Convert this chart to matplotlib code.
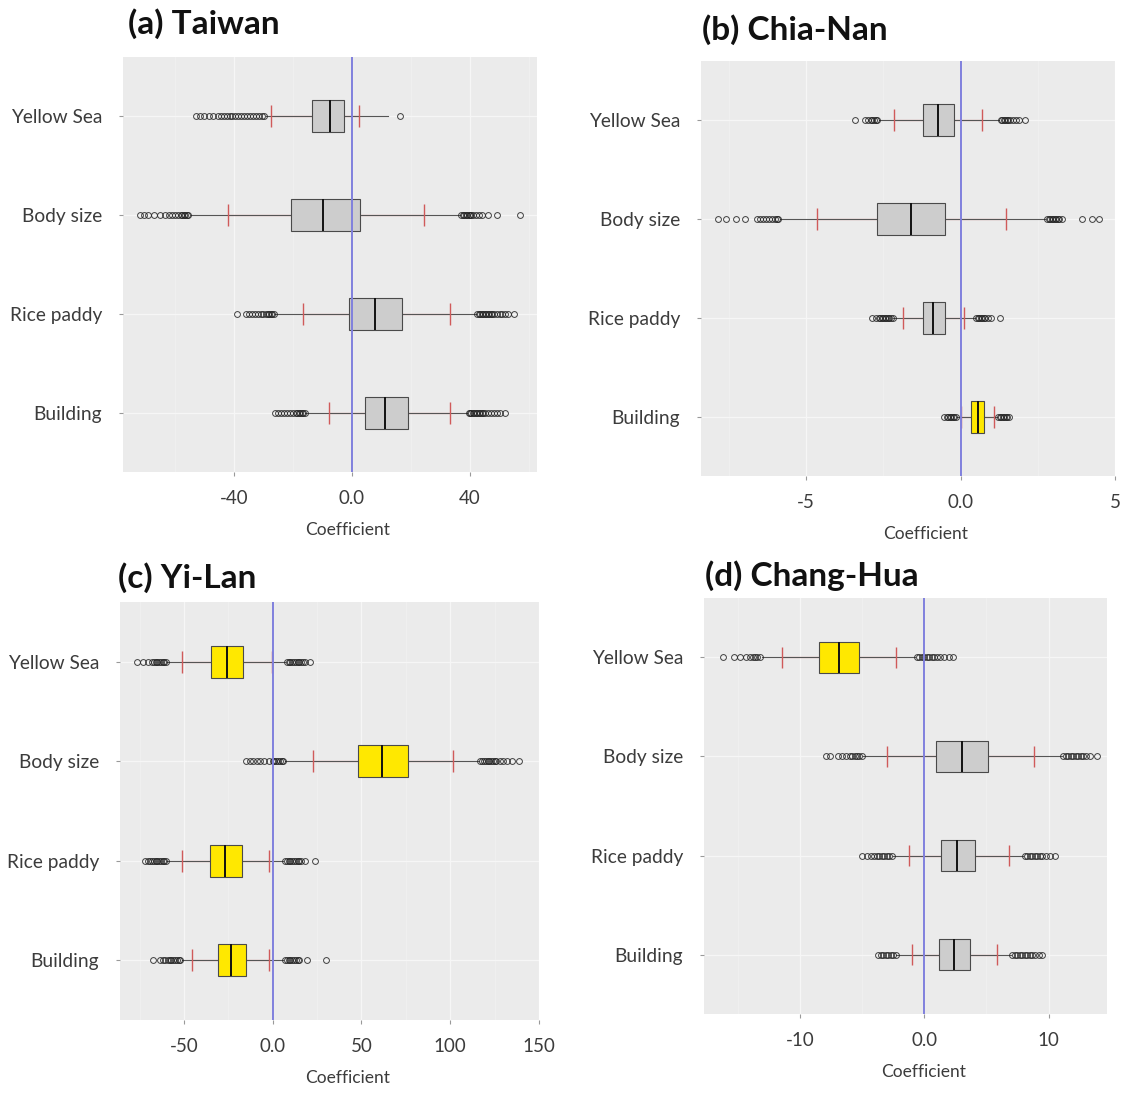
import matplotlib
matplotlib.use("Agg")
import matplotlib.pyplot as plt
from matplotlib.ticker import AutoMinorLocator

plt.rcParams['font.family'] = ['Lato', 'DejaVu Sans']

CATEGORIES = ["Yellow Sea", "Body size", "Rice paddy", "Building"]

# (a) Taiwan
TW_Q1 = [-13.6, -20.6, -1.0, 4.5]
TW_MED = [-7.3, -9.8, 7.9, 11.3]
TW_Q3 = [-2.8, 2.7, 17.0, 19.0]
TW_LO = [-29.0, -54.7, -26.0, -15.8]
TW_HI = [12.2, 36.5, 42.0, 38.9]
TW_CI_LO = [-27.4, -42.0, -16.6, -7.9]
TW_CI_HI = [2.4, 24.3, 33.2, 33.2]
TW_SIG = [False, False, False, False]
TW_FLIERS = [
    [-53, -51.5, -50, -48.5, -47, -45.5, -44.5, -43.5, -42.5, -41.5, -40.5, -39.5, -38.5,
     -37.5, -36.5, -35.5, -34.5, -33.5, -32.5, -31.5, -30.5, -29.8, 16.4],
    [-72, -70.5, -69, -67, -65, -63.5, -62, -61, -60, -59, -58, -57.5, -57, -56.5, -56, -55.5,
     37, 37.5, 38, 38.5, 39, 39.5, 40, 40.5, 41, 42, 43, 44, 46, 49, 57],
    [-39, -36, -35, -34, -33, -32, -31, -30, -29, -28.5, -28, -27.5, -27, -26.5,
     42.5, 43, 43.5, 44, 44.5, 45, 45.5, 46, 46.5, 47, 47.5, 48, 49, 50, 51, 52, 53, 55],
    [-26, -25, -24, -23, -22, -21, -20, -19, -18.5, -18, -17.5, -17, -16.5, -16,
     39.5, 40, 40.5, 41, 41.5, 42, 42.5, 43, 43.5, 44, 44.5, 45, 46, 47, 48, 49, 50, 52],
]

# (b) Chia-Nan
CN_Q1 = [-1.23, -2.69, -1.23, 0.33]
CN_MED = [-0.73, -1.6, -0.88, 0.55]
CN_Q3 = [-0.2, -0.49, -0.49, 0.76]
CN_LO = [-2.63, -5.85, -2.19, -0.12]
CN_HI = [1.23, 2.75, 0.47, 1.17]
CN_CI_LO = [-2.14, -4.63, -1.87, 0.0]
CN_CI_HI = [0.68, 1.46, 0.12, 1.08]
CN_SIG = [False, False, False, True]
CN_FLIERS = [
    [-3.43, -3.1, -3.0, -2.9, -2.85, -2.8, -2.75, -2.7,
     1.3, 1.35, 1.4, 1.45, 1.5, 1.55, 1.6, 1.7, 1.8, 1.9, 2.1],
    [-7.85, -7.6, -7.26, -6.97, -6.6, -6.5, -6.4, -6.3, -6.2, -6.1, -6.0, -5.95, -5.9,
     2.8, 2.85, 2.9, 2.95, 3.0, 3.05, 3.1, 3.15, 3.2, 3.3, 3.92, 4.27, 4.48],
    [-2.85, -2.75, -2.65, -2.6, -2.55, -2.5, -2.45, -2.4, -2.35, -2.3, -2.25, -2.2,
     0.5, 0.55, 0.6, 0.65, 0.7, 0.75, 0.8, 0.9, 1.0, 1.29],
    [-0.55, -0.45, -0.4, -0.35, -0.3, -0.25, -0.2, -0.15,
     1.22, 1.27, 1.32, 1.37, 1.42, 1.47, 1.52, 1.58],
]

# (c) Yi-Lan
YL_Q1 = [-34.9, 48.0, -35.3, -30.8]
YL_MED = [-25.8, 61.5, -26.6, -23.2]
YL_Q3 = [-16.5, 76.0, -17.5, -15.1]
YL_LO = [-59.5, 7.0, -59.5, -51.0]
YL_HI = [7.1, 116.0, 6.0, 6.0]
YL_CI_LO = [-50.8, 22.6, -50.8, -45.4]
YL_CI_HI = [-0.6, 101.4, -2.0, -2.0]
YL_SIG = [True, True, True, True]
YL_FLIERS = [
    [-76.6, -73, -70, -68, -67, -66, -65, -64, -63, -62, -61, -60,
     8, 9, 10, 11, 12, 13, 14, 15, 16, 17, 18, 21],
    [-15, -13, -11, -9, -7, -5, -2, 0, 1, 2, 3, 4, 5, 6,
     117, 118, 119, 120, 121, 122, 123, 124, 125, 126, 128, 130, 132, 135, 139],
    [-72, -70.5, -69, -68, -67, -66, -65, -64, -63, -62, -61, -60,
     7, 8, 9, 10, 11, 12, 13, 14, 15, 16, 18, 23.6],
    [-67.5, -63.5, -62, -60.5, -59, -58, -57, -56, -55, -54, -53, -52,
     7, 8, 9, 10, 11, 12, 13, 14, 15, 19.6, 30.2],
]

# (d) Chang-Hua
CH_Q1 = [-8.47, 0.92, 1.36, 1.16]
CH_MED = [-6.88, 3.03, 2.66, 2.37]
CH_Q3 = [-5.26, 5.1, 4.1, 3.67]
CH_LO = [-13.0, -4.9, -2.5, -2.25]
CH_HI = [-0.72, 11.1, 7.95, 7.0]
CH_CI_LO = [-11.4, -2.95, -1.2, -1.0]
CH_CI_HI = [-2.25, 8.87, 6.8, 5.87]
CH_SIG = [True, False, False, False]
CH_FLIERS = [
    [-16.2, -15.3, -14.8, -14.3, -14.0, -13.8, -13.6, -13.4, -13.2,
     -0.6, -0.4, -0.2, 0.0, 0.2, 0.4, 0.6, 0.8, 1.0, 1.3, 1.6, 2.0, 2.3],
    [-7.9, -7.6, -6.9, -6.6, -6.3, -6.0, -5.8, -5.6, -5.4, -5.2, -5.0,
     11.2, 11.4, 11.6, 11.8, 12.0, 12.2, 12.4, 12.6, 12.8, 13.0, 13.3, 13.9],
    [-5.0, -4.6, -4.3, -4.0, -3.8, -3.6, -3.4, -3.2, -3.0, -2.8, -2.6,
     8.1, 8.3, 8.5, 8.7, 8.9, 9.1, 9.3, 9.5, 9.8, 10.1, 10.5],
    [-3.7, -3.5, -3.3, -3.1, -2.9, -2.7, -2.5, -2.3,
     7.1, 7.3, 7.5, 7.7, 7.9, 8.1, 8.3, 8.5, 8.7, 8.9, 9.2, 9.5],
]

W, H = 1126, 1096


def px_rect(left, right, top, bottom):
    # pixel box -> figure fraction rect
    return [left / W, 1 - bottom / H, (right - left) / W, (bottom - top) / H]


def draw_panel(fig, rect, q1, med, q3, lo, hi, ci_lo, ci_hi, sig, fliers,
               xlim, xticks, xticklabels):
    ax = fig.add_axes(rect)
    ax.set_facecolor('#ebebeb')
    pos = [1, 2, 3, 4]

    stats = []
    for i in range(4):
        stats.append({'med': med[i], 'q1': q1[i], 'q3': q3[i],
                      'whislo': lo[i], 'whishi': hi[i],
                      'fliers': fliers[i], 'label': CATEGORIES[i]})

    # red interval line behind the boxes
    ax.hlines(pos, ci_lo, ci_hi, color='#e89090', lw=0.9, zorder=2)

    bp = ax.bxp(stats, positions=pos, widths=0.32, orientation='horizontal',
                patch_artist=True, showcaps=False,
                boxprops=dict(edgecolor='#4a4a4a', linewidth=0.8),
                whiskerprops=dict(color='#555555', linewidth=0.8),
                medianprops=dict(color='#111111', linewidth=1.4),
                flierprops=dict(marker='o', markerfacecolor='none',
                                markeredgecolor='#222222', markersize=4.2,
                                markeredgewidth=0.7, alpha=0.85))
    for patch, s in zip(bp['boxes'], sig):
        patch.set_facecolor('#ffe800' if s else '#cdcdcd')
        patch.set_zorder(3)
    for m in bp['medians']:
        m.set_zorder(4)

    # red end ticks of the interval
    for i in range(4):
        ax.vlines([ci_lo[i], ci_hi[i]], pos[i] - 0.11, pos[i] + 0.11,
                  color='#d05a5a', lw=1.0, zorder=5)

    ax.axvline(0, color='#8080dd', lw=1.4, zorder=6)

    ax.set_xlim(*xlim)
    ax.set_ylim(4.6, 0.4)
    ax.set_xticks(xticks)
    ax.set_xticklabels(xticklabels)
    ax.xaxis.set_minor_locator(AutoMinorLocator(2))
    ax.set_yticks(pos)
    ax.set_yticklabels(CATEGORIES)

    ax.set_axisbelow(True)
    ax.grid(which='major', color='#f6f6f6', lw=0.9)
    ax.grid(which='minor', axis='x', color='#f2f2f2', lw=0.5)
    for sp in ax.spines.values():
        sp.set_visible(False)

    ax.tick_params(which='major', length=3, width=0.8, color='#999999',
                   labelcolor='#3c3c3c', labelsize=13.8, pad=12)
    ax.tick_params(which='minor', length=0)
    ax.tick_params(axis='x', pad=10, labelsize=13.5)
    ax.set_xlabel('Coefficient', fontsize=12.5, color='#3c3c3c', labelpad=10)
    ax.xaxis.set_label_coords(0.5 + 18 / (rect[2] * W), -0.12)
    return ax


def main():
    fig = plt.figure(figsize=(W / 100, H / 100), dpi=100)
    fig.patch.set_facecolor('white')

    draw_panel(fig, px_rect(123, 537, 57, 472),
               TW_Q1, TW_MED, TW_Q3, TW_LO, TW_HI, TW_CI_LO, TW_CI_HI, TW_SIG, TW_FLIERS,
               (-77.6, 62.7), [-40, 0, 40], ['-40', '0.0', '40'])
    draw_panel(fig, px_rect(701, 1115, 61, 476),
               CN_Q1, CN_MED, CN_Q3, CN_LO, CN_HI, CN_CI_LO, CN_CI_HI, CN_SIG, CN_FLIERS,
               (-8.4, 5.0), [-5, 0, 5], ['-5', '0.0', '5'])
    draw_panel(fig, px_rect(120, 539, 602, 1020),
               YL_Q1, YL_MED, YL_Q3, YL_LO, YL_HI, YL_CI_LO, YL_CI_HI, YL_SIG, YL_FLIERS,
               (-86, 150), [-50, 0, 50, 100, 150], ['-50', '0.0', '50', '100', '150'])
    draw_panel(fig, px_rect(704, 1107, 598, 1014),
               CH_Q1, CH_MED, CH_Q3, CH_LO, CH_HI, CH_CI_LO, CH_CI_HI, CH_SIG, CH_FLIERS,
               (-17.7, 14.7), [-10, 0, 10], ['-10', '0.0', '10'])

    titles = [("(a) Taiwan", 128, 24), ("(b) Chia-Nan", 702, 30),
              ("(c) Yi-Lan", 118, 578), ("(d) Chang-Hua", 705, 576)]
    for txt, x, y in titles:
        fig.text(x / W, 1 - y / H, txt, fontsize=24, fontweight='bold',
                 color='#111111', ha='left', va='center')

    fig.savefig('out.png', dpi=100, facecolor='white')


if __name__ == '__main__':
    main()
